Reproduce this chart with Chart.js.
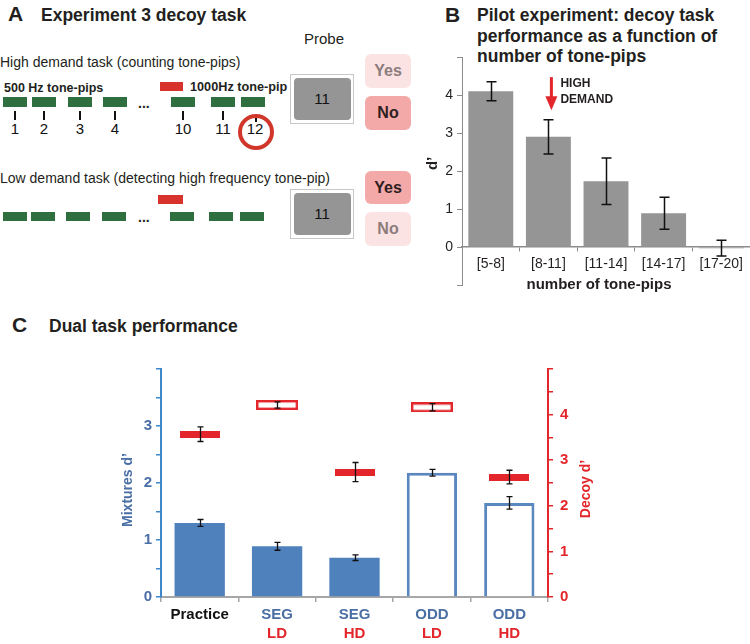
<!DOCTYPE html>
<html>
<head>
<meta charset="utf-8">
<script src="https://cdn.jsdelivr.net/npm/chart.js@4.4.1/dist/chart.umd.min.js"></script>
<style>
  html, body { margin: 0; padding: 0; background: #fff; }
  body { width: 750px; height: 644px; position: relative; overflow: hidden; font-family: 'Liberation Sans', Arial, sans-serif; color: #231f20; }
  .t { position: absolute; white-space: nowrap; transform: translateY(-50%); line-height: 1.15; }
  .tc { position: absolute; white-space: nowrap; transform: translate(-50%, -50%); line-height: 1.15; }
  .r { position: absolute; box-sizing: border-box; }
  .head { font-weight: bold; font-size: 17.5px; }
  .letter { font-weight: bold; font-size: 21px; }
  canvas { position: absolute; }
</style>
</head>
<body>
<div id="panelA"></div>

<div class="t letter" style="left:445px;top:15px">B</div>
<div class="head" style="position:absolute;left:477px;top:5px;line-height:20.5px">Pilot experiment: decoy task<br>performance as a function of<br>number of tone-pips</div>

<div class="t letter" style="left:12px;top:325px">C</div>
<div class="t head" style="left:49px;top:326px">Dual task performance</div>

<canvas id="chartPilot" width="330" height="310" style="left:420px;top:0"></canvas>
<canvas id="chartDual" width="750" height="304" style="left:0;top:340px"></canvas>

<script>
// Panel B - pilot experiment
const pilotBins = ['[5-8]', '[8-11]', '[11-14]', '[14-17]', '[17-20]'];
const pilotDprime = [4.1, 2.9, 1.73, 0.89, -0.03];
const pilotErr = [0.25, 0.45, 0.61, 0.42, 0.21];
const pilotTickLabels = [0, 1, 2, 3, 4];

// Panel C - dual task
const conditionTask = ['Practice', 'SEG', 'SEG', 'ODD', 'ODD'];
const conditionLoad = ['', 'LD', 'HD', 'LD', 'HD'];
const mixturesDprime = [1.30, 0.89, 0.69, 2.18, 1.65];
const mixturesErr = [0.06, 0.07, 0.05, 0.06, 0.11];
const decoyDprime = [3.57, 4.21, 2.74, 4.16, 2.63];
const decoyErr = [0.16, 0.07, 0.21, 0.08, 0.15];
const mixturesTickLabels = [0, 1, 2, 3];
const decoyTickLabels = [0, 1, 2, 3, 4];

const BLUE = '#4f81bd';
const BLUE_TEXT = '#4a6fa5';
const BLUE_AXIS = '#3d87c8';
const RED = '#e3262b';
const GREEN = '#2f6f3f';

// ---------- Panel A (task diagram) ----------
const panelA = document.getElementById('panelA');
const put = (text, x, y, css, cls) => {
    const el = document.createElement('div');
    el.className = cls || 't';
    el.style.cssText = `left:${x}px;top:${y}px;` + (css || '');
    el.textContent = text;
    panelA.appendChild(el);
    return el;
};
const box = (x, y, w, h, css) => {
    const el = document.createElement('div');
    el.className = 'r';
    el.style.cssText = `left:${x}px;top:${y}px;width:${w}px;height:${h}px;` + (css || '');
    panelA.appendChild(el);
    return el;
};

put('A', 8, 14, 'font-weight:bold;font-size:21px');
put('Experiment 3 decoy task', 41, 15, 'font-weight:bold;font-size:17.5px');
put('Probe', 304, 39, 'font-size:15px');
put('High demand task (counting tone-pips)', 0, 62, 'font-size:14px');
put('500 Hz tone-pips', 4, 88, 'font-weight:bold;font-size:12.5px');
box(160, 82, 23, 9, 'background:#d8322c');
put('1000Hz tone-pip', 190, 87, 'font-weight:bold;font-size:12.7px');

const pipRow1 = [3, 32, 68, 103, 171, 211, 241];
const pipRow2 = [3, 31, 66, 102, 170, 209, 240];
const pipNums = ['1', '2', '3', '4', '10', '11', '12'];
pipRow1.forEach((x, i) => {
    box(x, 97, 24, 10, 'background:' + GREEN);
    const cx = x + 12;
    if (i < 6) box(cx - 1, 111, 2, 9, 'background:#111');
    else box(cx + 2, 116, 2, 6, 'background:#111');
    put(pipNums[i], cx + (i === 6 ? 2 : 0), 129, 'font-size:15px;color:#111', 'tc');
});
put('...', 138, 103, 'font-weight:bold;font-size:14px');
box(238, 114, 36, 36, 'border:4px solid #d0362a;border-radius:50%');

put('Low demand task (detecting high frequency tone-pip)', 0, 178, 'font-size:14px');
box(158, 195, 25, 9, 'background:#d8322c');
pipRow2.forEach(x => box(x, 212, 24, 9, 'background:' + GREEN));
put('...', 138, 217, 'font-weight:bold;font-size:14px');

[74, 189].forEach(y => {
    box(290, y, 64, 50, 'border:1px solid #c8c8c8');
    box(294, y + 4, 57, 42, 'background:#959595;border-radius:4px');
    put('11', 322, y + 25, 'font-size:15px;color:#111', 'tc');
});
const answer = (label, y, h, strong) => {
    box(365, y, 46, h, `background:${strong ? '#f4a9a9' : '#fbe3e3'};border-radius:6px`);
    put(label, 388, y + h / 2, `font-weight:bold;font-size:16px;color:${strong ? '#2e2020' : '#8c7c7c'}`, 'tc');
};
answer('Yes', 54, 34, false);
answer('No', 96, 34, true);
answer('Yes', 171, 33, true);
answer('No', 212, 34, false);

// ---------- shared plugin: error bars ----------
const errorBars = {
    id: 'errorBars',
    afterDatasetsDraw(chart, args, opts) {
        const { ctx } = chart;
        ctx.save();
        ctx.strokeStyle = '#111';
        ctx.lineWidth = opts.width;
        chart.data.datasets.forEach((ds, di) => {
            if (!ds.errs) return;
            const meta = chart.getDatasetMeta(di);
            const yScale = chart.scales[meta.yAxisID];
            meta.data.forEach((el, i) => {
                const v = ds.data[i], e = ds.errs[i];
                const top = yScale.getPixelForValue(v + e);
                const bot = yScale.getPixelForValue(v - e);
                const x = Math.round(el.x) + 0.5;
                ctx.beginPath();
                ctx.moveTo(x, top); ctx.lineTo(x, bot);
                ctx.moveTo(x - opts.cap, top); ctx.lineTo(x + opts.cap, top);
                ctx.moveTo(x - opts.cap, bot); ctx.lineTo(x + opts.cap, bot);
                ctx.stroke();
            });
        });
        ctx.restore();
    }
};

// ---------- Panel B ----------
const pilotExtras = {
    id: 'pilotExtras',
    afterDraw(chart) {
        const { ctx, chartArea } = chart;
        const x = chart.scales.x, y = chart.scales.y;
        ctx.save();
        ctx.fillStyle = '#231f20';
        ctx.textAlign = 'center';
        ctx.textBaseline = 'middle';
        ctx.font = "bold 15px 'Liberation Sans', Arial";
        ctx.fillText('number of tone-pips', (chartArea.left + chartArea.right) / 2 - 7, y.getPixelForValue(-1));

        ctx.save();
        ctx.translate(chartArea.left - 29, y.getPixelForValue(2.2));
        ctx.rotate(-Math.PI / 2);
        ctx.fillText('d’', 0, 0);
        ctx.restore();

        // high demand arrow
        const ax = x.getPixelForValue(1) + 3;
        const y0 = y.getPixelForValue(4.47), y1 = y.getPixelForValue(3.6);
        ctx.strokeStyle = RED;
        ctx.fillStyle = RED;
        ctx.lineWidth = 3;
        ctx.beginPath();
        ctx.moveTo(ax, y0); ctx.lineTo(ax, y1 - 10);
        ctx.stroke();
        ctx.beginPath();
        ctx.moveTo(ax - 6, y1 - 14); ctx.lineTo(ax + 6, y1 - 14); ctx.lineTo(ax, y1);
        ctx.closePath();
        ctx.fill();

        ctx.fillStyle = '#231f20';
        ctx.textAlign = 'left';
        ctx.font = "bold 12px 'Liberation Sans', Arial";
        ctx.fillText('HIGH', ax + 9, y.getPixelForValue(4.3));
        ctx.fillText('DEMAND', ax + 9, y.getPixelForValue(3.88));
        ctx.restore();
    }
};

new Chart(document.getElementById('chartPilot'), {
    type: 'bar',
    data: {
        labels: pilotBins,
        datasets: [{
            data: pilotDprime,
            errs: pilotErr,
            backgroundColor: '#959595',
            barPercentage: 0.78,
            categoryPercentage: 1
        }]
    },
    options: {
        responsive: false,
        animation: false,
        layout: { padding: { top: 57, bottom: 25, left: 0, right: 0 } },
        plugins: {
            legend: { display: false },
            tooltip: { enabled: false },
            errorBars: { cap: 5, width: 1.5 }
        },
        scales: {
            x: {
                position: { y: 0 },
                border: { color: '#8c8c8c', width: 1.5 },
                grid: { drawOnChartArea: false, color: '#8c8c8c', tickLength: 4, offset: true },
                ticks: { color: '#231f20', font: { size: 14 }, padding: 5, maxRotation: 0 }
            },
            y: {
                min: -1,
                max: 5,
                border: { color: '#8c8c8c', width: 1 },
                grid: { drawOnChartArea: false, color: '#8c8c8c', tickLength: 5 },
                ticks: {
                    stepSize: 1,
                    color: '#231f20',
                    font: { size: 14 },
                    padding: 4,
                    callback: v => pilotTickLabels.includes(v) ? v : ''
                },
                afterFit: s => { s.width = 42; }
            }
        }
    },
    plugins: [errorBars, pilotExtras]
});

// ---------- Panel C ----------
const makeMarker = (hollow) => {
    const c = document.createElement('canvas');
    c.width = hollow ? 42 : 40;
    c.height = hollow ? 10 : 7;
    const g = c.getContext('2d');
    if (hollow) {
        g.fillStyle = '#fff';
        g.fillRect(0, 0, c.width, c.height);
        g.strokeStyle = RED;
        g.lineWidth = 2.4;
        g.strokeRect(1.2, 1.2, c.width - 2.4, c.height - 2.4);
    } else {
        g.fillStyle = RED;
        g.fillRect(0, 0, c.width, c.height);
    }
    return c;
};
const markerFilled = makeMarker(false);
const markerHollow = makeMarker(true);

const dualExtras = {
    id: 'dualExtras',
    afterDraw(chart) {
        const { ctx, chartArea } = chart;
        const x = chart.scales.x;
        const mid = (chartArea.top + chartArea.bottom) / 2;
        ctx.save();
        ctx.textAlign = 'center';
        ctx.textBaseline = 'middle';
        ctx.font = "bold 15px 'Liberation Sans', Arial";
        conditionTask.forEach((task, i) => {
            const px = x.getPixelForValue(i);
            ctx.fillStyle = task === 'Practice' ? '#111' : BLUE_TEXT;
            ctx.fillText(task, px, chartArea.bottom + 18);
            ctx.fillStyle = RED;
            ctx.fillText(conditionLoad[i], px, chartArea.bottom + 37);
        });

        ctx.font = "bold 14px 'Liberation Sans', Arial";
        ctx.save();
        ctx.translate(chartArea.left - 33, mid + 7);
        ctx.rotate(-Math.PI / 2);
        ctx.fillStyle = BLUE_TEXT;
        ctx.fillText('Mixtures d’', 0, 0);
        ctx.restore();

        ctx.save();
        ctx.translate(chartArea.right + 38, mid + 6);
        ctx.rotate(-Math.PI / 2);
        ctx.fillStyle = RED;
        ctx.fillText('Decoy d’', 0, 0);
        ctx.restore();
        ctx.restore();
    }
};

new Chart(document.getElementById('chartDual'), {
    type: 'bar',
    data: {
        labels: conditionTask,
        datasets: [
            {
                type: 'line',
                label: 'Decoy d’',
                yAxisID: 'yR',
                data: decoyDprime,
                errs: decoyErr,
                showLine: false,
                pointRadius: 5,
                pointStyle: c => conditionLoad[c.dataIndex] === 'LD' ? markerHollow : markerFilled,
                order: 0
            },
            {
                type: 'bar',
                label: 'Mixtures d’',
                yAxisID: 'yL',
                data: mixturesDprime,
                errs: mixturesErr,
                backgroundColor: conditionTask.map(t => t === 'ODD' ? '#fff' : BLUE),
                borderColor: '#5a87be',
                borderWidth: conditionTask.map(t => t === 'ODD' ? 3 : 0),
                barPercentage: 0.65,
                categoryPercentage: 1,
                order: 1
            }
        ]
    },
    options: {
        responsive: false,
        animation: false,
        layout: { padding: { top: 29, bottom: 0, left: 116, right: 152 } },
        plugins: {
            legend: { display: false },
            tooltip: { enabled: false },
            errorBars: { cap: 3, width: 1.3 }
        },
        scales: {
            x: {
                border: { color: '#a6a6a6', width: 2 },
                grid: { drawOnChartArea: false, color: '#a6a6a6', tickLength: 5, lineWidth: 1.5, offset: true },
                ticks: { display: false },
                afterFit: s => { s.height = 47; }
            },
            yL: {
                position: 'left',
                min: 0,
                max: 4,
                border: { color: BLUE_AXIS, width: 2 },
                grid: { drawOnChartArea: false, color: BLUE_AXIS, tickLength: 5, lineWidth: 1.5 },
                ticks: {
                    stepSize: 0.5,
                    color: BLUE_TEXT,
                    font: { size: 15, weight: 'bold' },
                    padding: 4,
                    callback: v => mixturesTickLabels.includes(v) ? v : ''
                },
                afterFit: s => { s.width = 45; }
            },
            yR: {
                position: 'right',
                min: 0,
                max: 5,
                border: { color: RED, width: 2 },
                grid: { drawOnChartArea: false, color: RED, tickLength: 5, lineWidth: 1.5 },
                ticks: {
                    stepSize: 0.5,
                    color: RED,
                    font: { size: 15, weight: 'bold' },
                    padding: 7,
                    callback: v => decoyTickLabels.includes(v) ? v : ''
                },
                afterFit: s => { s.width = 50; }
            }
        }
    },
    plugins: [errorBars, dualExtras]
});
</script>
</body>
</html>
